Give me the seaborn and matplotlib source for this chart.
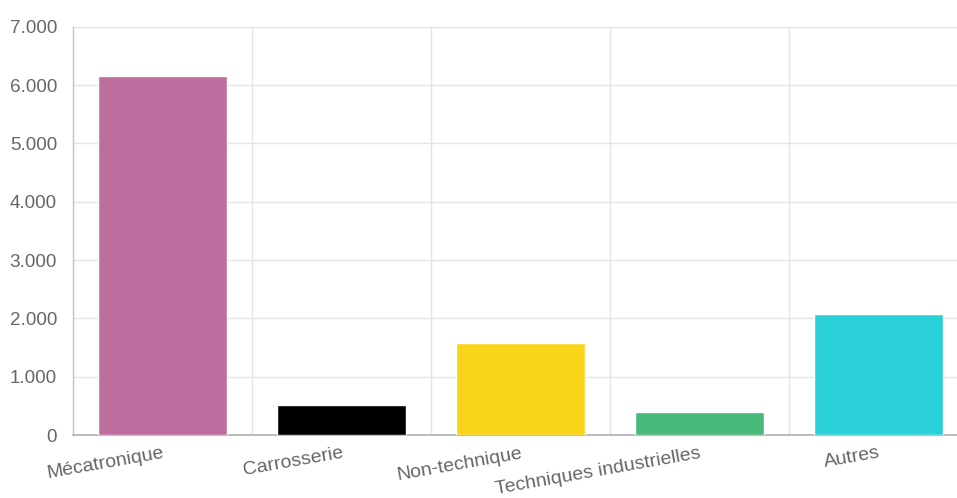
import matplotlib
matplotlib.use("Agg")
import matplotlib.pyplot as plt
import seaborn as sns
from matplotlib.ticker import FuncFormatter, FixedLocator

categories = ["Mécatronique", "Carrosserie", "Non-technique", "Techniques industrielles", "Autres"]
values = [6155, 515, 1570, 400, 2070]
colors = ["#BE6E9E", "#000000", "#F9D419", "#47B97A", "#2BD1D8"]
yticks = [0, 1000, 2000, 3000, 4000, 5000, 6000, 7000]

sns.set_style("white")
plt.rcParams['font.family'] = ['Liberation Sans', 'DejaVu Sans']

fig = plt.figure(figsize=(9.57, 4.98), dpi=100)
ax = fig.add_axes([73 / 957, 63 / 498, (968 - 73) / 957, (435 - 26.7) / 498])

sns.barplot(x=categories, y=values, hue=categories, palette=colors, width=0.72,
            saturation=1, legend=False, ax=ax, zorder=3)

grid_c = "#e4e4e4"
ax.set_xlim(-0.5, 4.5)
ax.set_ylim(0, 7000)
ax.set_yticks(yticks)
ax.yaxis.set_major_formatter(FuncFormatter(lambda v, p: f"{int(v):,}".replace(",", ".")))
ax.xaxis.set_minor_locator(FixedLocator([-0.5, 0.5, 1.5, 2.5, 3.5, 4.5]))
ax.grid(True, axis="y", color=grid_c, linewidth=1, zorder=0)
ax.grid(True, axis="x", which="minor", color=grid_c, linewidth=1, zorder=0)
ax.set_axisbelow(True)

for s in ["top", "right"]:
    ax.spines[s].set_visible(False)
ax.spines["left"].set_color("#c4c4c4")
ax.spines["bottom"].set_color("#b0b0b0")
ax.spines["left"].set_linewidth(1)
ax.spines["bottom"].set_linewidth(1.2)

ax.tick_params(axis="y", which="major", length=9.5, color=grid_c, labelsize=13.6,
               labelcolor="#666666", pad=2)
ax.tick_params(axis="x", which="major", length=0, labelsize=14, labelcolor="#666666", pad=7)
ax.tick_params(axis="x", which="minor", length=9, color=grid_c)
ax.set_xticks(range(len(categories)))
ax.set_xticklabels(categories, rotation=10, ha="right", rotation_mode="anchor")
ax.set_xlabel("")
ax.set_ylabel("")

fig.savefig("out.png", dpi=100)
